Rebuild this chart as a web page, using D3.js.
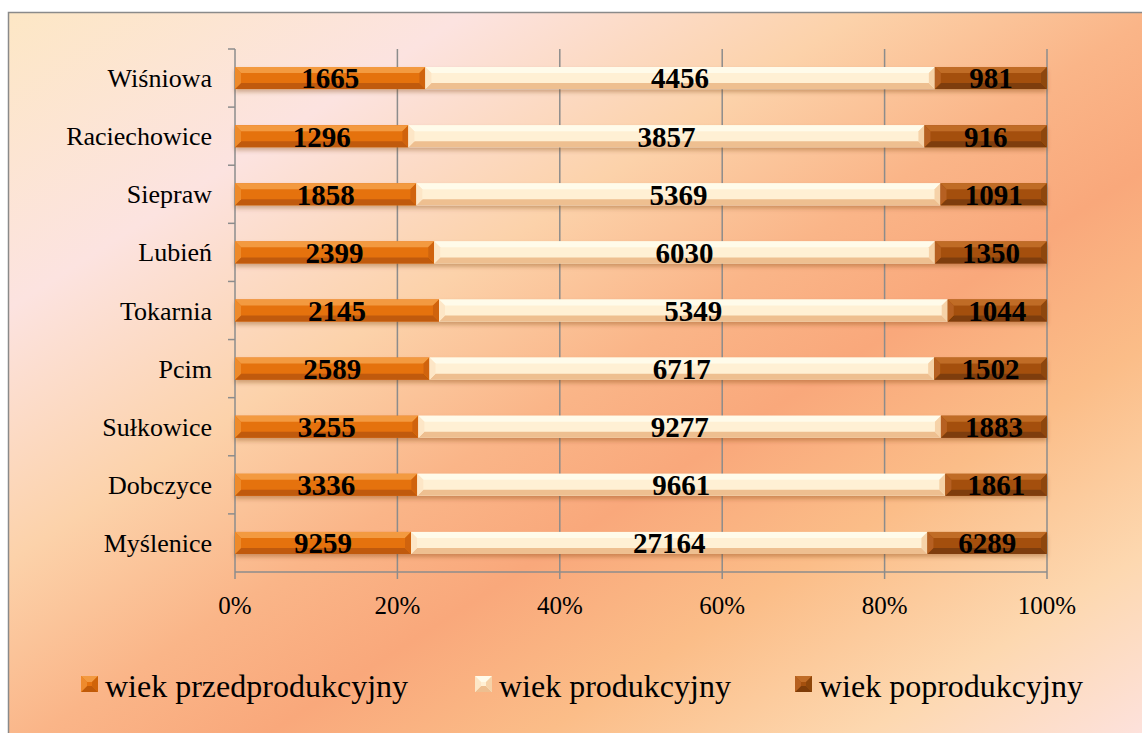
<!DOCTYPE html>
<html>
<head>
<meta charset="utf-8">
<script src="https://cdn.jsdelivr.net/npm/d3@7"></script>
<style>
body{margin:0;background:#fff;}
text{font-family:"Times New Roman","Liberation Serif",serif;fill:#000;}
.cat{font-size:26px;}
.tick{font-size:25px;}
.val{font-size:29px;font-weight:bold;}
.leg{font-size:32px;}
</style>
</head>
<body>
<svg id="chart" width="1142" height="733"></svg>
<script>
var gminy = ['Wiśniowa','Raciechowice','Siepraw','Lubień','Tokarnia','Pcim','Sułkowice','Dobczyce','Myślenice'];
var przed = [1665,1296,1858,2399,2145,2589,3255,3336,9259];
var prod = [4456,3857,5369,6030,5349,6717,9277,9661,27164];
var popr = [981,916,1091,1350,1044,1502,1883,1861,6289];
var seriesNames = ['wiek przedprodukcyjny','wiek produkcyjny','wiek poprodukcyjny'];
var xTicks = [0,0.2,0.4,0.6,0.8,1];

// colours for the bevel: base, top, bottom, left, right
var looks = [
	{base:'#e5720e', top:'#f39a40', bottom:'#c05a08', left:'#ee8a2c', right:'#d06408'},
	{base:'#fff0d4', top:'#fffbea', bottom:'#eebf90', left:'#fde6c6', right:'#f6d2a8'},
	{base:'#a4500e', top:'#c06c26', bottom:'#7e3c08', left:'#b66020', right:'#8e460a'}
];

var svg = d3.select('#chart');
var defs = svg.append('defs');

var bg = defs.append('linearGradient').attr('id','bg')
	.attr('x1',0).attr('y1',0).attr('x2',1).attr('y2',1);
[[0,'#fde7c5'],[0.2,'#fce3e0'],[0.37,'#fcd2aa'],[0.5,'#fab588'],[0.6,'#f9a87b'],
 [0.72,'#fbbd88'],[0.86,'#fdd8b0'],[1,'#fde3e3']].forEach(function(s){
	bg.append('stop').attr('offset',s[0]).attr('stop-color',s[1]);
});

var sh = defs.append('filter').attr('id','shadow').attr('x','-5%').attr('y','-30%').attr('width','110%').attr('height','180%');
sh.append('feDropShadow').attr('dx',0).attr('dy',3).attr('stdDeviation',2)
	.attr('flood-color','#7a3a10').attr('flood-opacity',0.35);

svg.append('rect').attr('x',8.5).attr('y',12.5).attr('width',1150).attr('height',740)
	.attr('fill','url(#bg)').attr('stroke','#8a8a8a').attr('stroke-width',1.5);

var plotL = 235, plotR = 1047, plotT = 49, plotB = 572;

var x = d3.scaleLinear().domain([0,1]).range([plotL,plotR]);
var y = d3.scaleBand().domain(gminy).range([plotT,plotB]).paddingInner(0.62).paddingOuter(0.31);
var band = d3.scaleBand().domain(gminy).range([plotT,plotB]);

// gridlines
svg.append('g').selectAll('line').data(xTicks.slice(1)).enter().append('line')
	.attr('x1',function(d){return x(d);}).attr('x2',function(d){return x(d);})
	.attr('y1',plotT).attr('y2',plotB)
	.attr('stroke','#8c8c8c').attr('stroke-width',1.5);

// y axis
var yAxis = svg.append('g');
yAxis.append('line').attr('x1',plotL).attr('x2',plotL).attr('y1',plotT).attr('y2',plotB)
	.attr('stroke','#8c8c8c').attr('stroke-width',1.5);
yAxis.selectAll('line.t').data(gminy).enter().append('line').attr('class','t')
	.attr('x1',plotL-7).attr('x2',plotL).attr('y1',function(d){return band(d);}).attr('y2',function(d){return band(d);})
	.attr('stroke','#8c8c8c').attr('stroke-width',1.5);
yAxis.selectAll('text').data(gminy).enter().append('text').attr('class','cat')
	.attr('x',plotL-23).attr('y',function(d){return band(d)+band.bandwidth()/2;})
	.attr('dy','0.35em').attr('text-anchor','end').text(function(d){return d;});

// x axis
var xAxis = svg.append('g');
xAxis.append('line').attr('x1',plotL).attr('x2',plotR).attr('y1',plotB).attr('y2',plotB)
	.attr('stroke','#8c8c8c').attr('stroke-width',1.5);
xAxis.selectAll('line.t').data(xTicks).enter().append('line').attr('class','t')
	.attr('x1',function(d){return x(d);}).attr('x2',function(d){return x(d);})
	.attr('y1',plotB).attr('y2',plotB+7)
	.attr('stroke','#8c8c8c').attr('stroke-width',1.5);
xAxis.selectAll('text').data(xTicks).enter().append('text').attr('class','tick')
	.attr('x',function(d){return x(d);}).attr('y',plotB+42)
	.attr('text-anchor','middle').text(function(d){return Math.round(d*100)+'%';});

// bevelled box
function bevel(g, x0, y0, w, h, look){
	var b = Math.min(6, w/2, h/2);
	g.append('rect').attr('x',x0).attr('y',y0).attr('width',w).attr('height',h).attr('fill',look.base);
	var polys = [
		[[x0,y0],[x0+w,y0],[x0+w-b,y0+b],[x0+b,y0+b],look.top],
		[[x0,y0+h],[x0+w,y0+h],[x0+w-b,y0+h-b],[x0+b,y0+h-b],look.bottom],
		[[x0,y0],[x0+b,y0+b],[x0+b,y0+h-b],[x0,y0+h],look.left],
		[[x0+w,y0],[x0+w-b,y0+b],[x0+w-b,y0+h-b],[x0+w,y0+h],look.right]
	];
	polys.forEach(function(p){
		g.append('polygon').attr('points',p.slice(0,4).map(function(q){return q.join(',');}).join(' '))
			.attr('fill',p[4]);
	});
}

var table = gminy.map(function(g,i){
	var total = przed[i]+prod[i]+popr[i];
	var vals = [przed[i],prod[i],popr[i]];
	var acc = 0;
	return vals.map(function(v){
		var seg = {gmina:g, value:v, x0:acc/total, x1:(acc+v)/total};
		acc += v;
		return seg;
	});
});

var bars = svg.append('g');
table.forEach(function(row){
	var rg = bars.append('g').attr('filter','url(#shadow)');
	row.forEach(function(seg,k){
		bevel(rg, x(seg.x0), y(seg.gmina), x(seg.x1)-x(seg.x0), y.bandwidth(), looks[k]);
	});
});

var labels = svg.append('g');
table.forEach(function(row){
	labels.selectAll(null).data(row).enter().append('text').attr('class','val')
		.attr('x',function(d){return (x(d.x0)+x(d.x1))/2;})
		.attr('y',function(d){return y(d.gmina)+y.bandwidth()/2;})
		.attr('dy','0.36em').attr('text-anchor','middle')
		.text(function(d){return d.value;});
});

// legend
var legX = [81,475,795];
var leg = svg.append('g');
seriesNames.forEach(function(n,k){
	var lg = leg.append('g');
	bevel(lg, legX[k], 676, 17, 16, looks[k]);
	lg.append('text').attr('class','leg').attr('x',legX[k]+24).attr('y',697).text(n);
});
</script>
</body>
</html>
